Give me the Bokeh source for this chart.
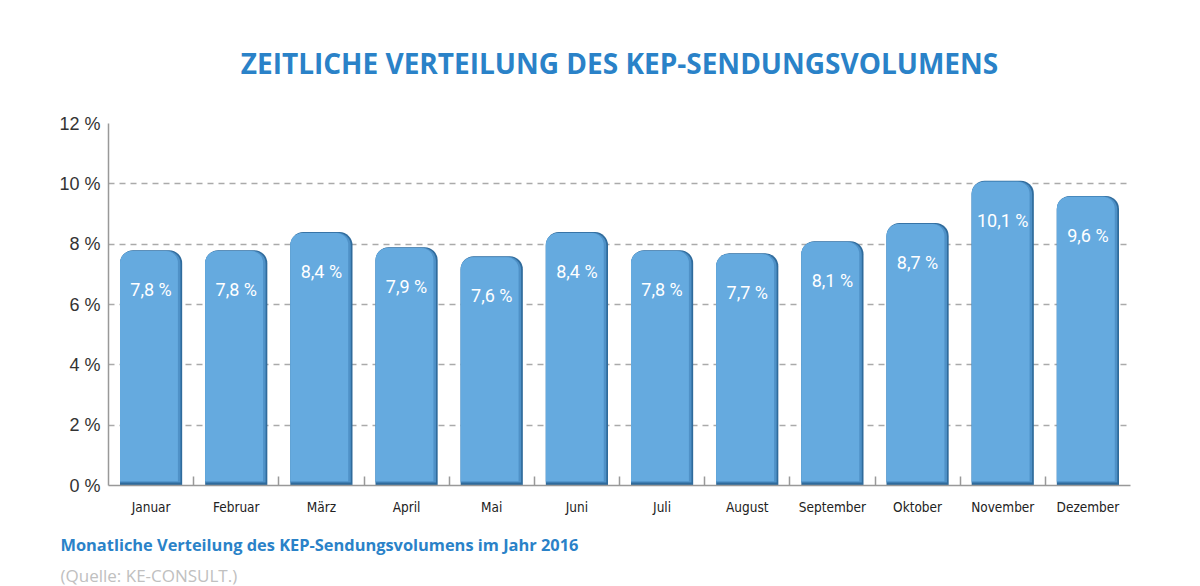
from bokeh.plotting import figure
from bokeh.models import (ColumnDataSource, FixedTicker, Title, Range1d)
from bokeh.transform import dodge
from bokeh.embed import file_html
from bokeh.resources import INLINE
from bokeh.core.properties import value

months = ["Januar", "Februar", "März", "April", "Mai", "Juni", "Juli",
          "August", "September", "Oktober", "November", "Dezember"]
shares = [7.8, 7.8, 8.4, 7.9, 7.6, 8.4, 7.8, 7.7, 8.1, 8.7, 10.1, 9.6]
y_ticks = [0, 2, 4, 6, 8, 10, 12]
title_text = "ZEITLICHE VERTEILUNG DES KEP-SENDUNGSVOLUMENS"
caption_text = "Monatliche Verteilung des KEP-Sendungsvolumens im Jahr 2016"
source_text = "(Quelle: KE-CONSULT.)"

xs = [i + 0.5 for i in range(len(months))]
labels = [f"{v:.1f}".replace(".", ",") + " %" for v in shares]
label_y = [v - 1.3 for v in shares]
src = ColumnDataSource(dict(x=xs, top=shares, lab=labels, ly=label_y))

p = figure(width=1200, height=586, output_backend="svg", toolbar_location=None,
           x_range=Range1d(0, 12), y_range=Range1d(0, 12),
           min_border_left=108, min_border_right=70, min_border_top=123,
           min_border_bottom=101, outline_line_color=None)
p.background_fill_color = "white"
p.border_fill_color = "white"

# bars: dark base, mid tone, light face
p.vbar(x="x", top="top", bottom=0, width=0.73, source=src,
       fill_color="#2f6b9c", line_color=None, border_radius=[13, 13, 0, 0])
p.vbar(x=dodge("x", -0.01, range=p.x_range), top=dodge("top", -0.02, range=p.y_range), bottom=0.1,
       width=0.71, source=src, fill_color="#4f91c7", line_color=None,
       border_radius=[13, 13, 0, 0])
p.vbar(x=dodge("x", -0.025, range=p.x_range), top=dodge("top", -0.03, range=p.y_range), bottom=0.14,
       width=0.68, source=src, fill_color="#65aadf", line_color=None,
       border_radius=[12, 12, 0, 0])

p.text(x="x", y="ly", text="lab", source=src, text_color="white",
       text_font=value("Roboto"), text_font_size="18px", text_align="center",
       text_baseline="middle")

cond_font = "'DejaVu Sans Condensed', 'Liberation Sans'"

# axes
p.xaxis.ticker = FixedTicker(ticks=xs, minor_ticks=list(range(1, 12)))
p.xaxis.major_label_overrides = {x: m for x, m in zip(xs, months)}
p.xaxis.major_tick_in = 0
p.xaxis.major_tick_out = 0
p.xaxis.minor_tick_in = 9
p.xaxis.minor_tick_out = 0
p.xaxis.minor_tick_line_color = "#999999"
p.xaxis.minor_tick_line_width = 1.5
p.xaxis.axis_line_color = "#999999"
p.xaxis.axis_line_width = 1.5
p.xaxis.major_label_text_font = cond_font
p.xaxis.major_label_text_font_size = "13.5px"
p.xaxis.major_label_text_color = "#222222"
p.xaxis.major_label_standoff = 13

p.yaxis.ticker = FixedTicker(ticks=y_ticks)
p.yaxis.major_label_overrides = {t: f"{t} %" for t in y_ticks}
p.yaxis.major_tick_in = 0
p.yaxis.major_tick_out = 0
p.yaxis.minor_tick_line_color = None
p.yaxis.axis_line_color = "#999999"
p.yaxis.axis_line_width = 1.5
p.yaxis.major_label_text_font = "Liberation Sans"
p.yaxis.major_label_text_font_size = "18px"
p.yaxis.major_label_text_color = "#333333"
p.yaxis.major_label_standoff = 8

p.xgrid.grid_line_color = None
p.ygrid.ticker = FixedTicker(ticks=y_ticks[1:])
p.ygrid.grid_line_color = "#aaaaaa"
p.ygrid.grid_line_dash = "6 5"
p.ygrid.grid_line_width = 1.3
p.ygrid.level = "underlay"

p.title.text = title_text
p.title.align = "center"
p.title.text_font = "Open Sans"
p.title.text_font_style = "bold"
p.title.text_font_size = "28px"
p.title.text_color = "#2a82c8"
p.title.standoff = 83

p.add_layout(Title(text=caption_text, align="left", offset=-48, standoff=27,
                   text_font="Open Sans", text_font_style="bold",
                   text_font_size="16.4px", text_color="#2a82c8",
                   text_line_height=0.8), "below")
p.add_layout(Title(text=source_text, align="left", offset=-48, standoff=-16,
                   text_font="Open Sans", text_font_style="normal",
                   text_font_size="17px", text_color="#c0c0c0",
                   text_line_height=0.8), "below")

open("out.html", "w").write(file_html(p, INLINE))
